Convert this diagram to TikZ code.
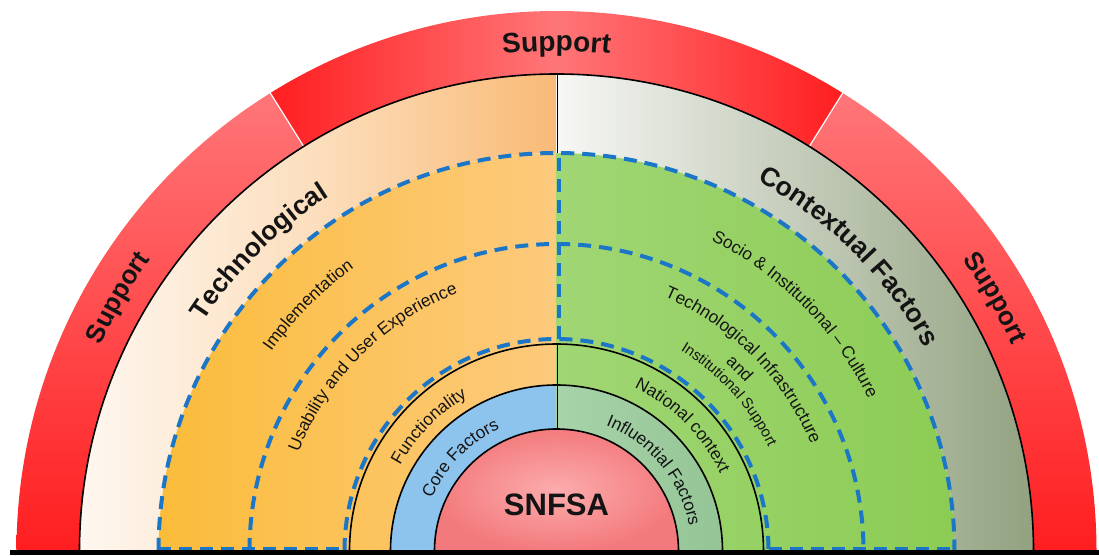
\documentclass[tikz,border=0pt]{standalone}
\usepackage{fontspec}
\setmainfont{Liberation Sans}
\usetikzlibrary{decorations.text}
\definecolor{supred}{RGB}{255,30,32}
\definecolor{suplight}{RGB}{255,118,120}
\definecolor{creamL}{RGB}{254,247,240}
\definecolor{creamM}{RGB}{252,222,188}
\definecolor{creamR}{RGB}{249,186,118}
\definecolor{grayL}{RGB}{247,247,245}
\definecolor{grayR}{RGB}{146,162,128}
\definecolor{orgL}{RGB}{251,188,58}
\definecolor{orgR}{RGB}{252,202,125}
\definecolor{grnL}{RGB}{160,214,116}
\definecolor{grnR}{RGB}{140,204,84}
\definecolor{coreblue}{RGB}{141,196,238}
\definecolor{inflL}{RGB}{168,211,170}
\definecolor{inflR}{RGB}{148,197,150}
\definecolor{pinkIn}{RGB}{252,172,174}
\definecolor{pinkOut}{RGB}{243,122,124}
\definecolor{dashblue}{RGB}{28,118,200}
\definecolor{ink}{RGB}{20,20,20}
\newcommand\fSup{\color{ink}\fontsize{26}{28}\selectfont\bfseries}
\newcommand\fTop{\color{ink}\fontsize{28}{30}\selectfont\bfseries}
\newcommand\fHead{\color{ink}\fontsize{26.5}{28}\selectfont\bfseries}
\newcommand\fMid{\color{ink}\fontsize{17.3}{19}\selectfont}
\newcommand\fSml{\color{ink}\fontsize{15}{17}\selectfont}
\tikzset{
  blackarc/.style={draw=black, line width=1.6pt},
  bluedash/.style={draw=dashblue, line width=4pt, dash pattern=on 13pt off 8pt},
  curvtext/.style={decorate, decoration={text along path, text align=center, text={#1}}}
}
\begin{document}
\begin{tikzpicture}
\useasboundingbox (-556.5pt,-4pt) rectangle (542.5pt,551pt);
% red support band
\shade[left color=supred, right color=supred, middle color=suplight]
  (122:540pt) arc[start angle=122, end angle=58, radius=540pt] -- (58:477pt)
  arc[start angle=58, end angle=122, radius=477pt] -- cycle;
\shade[top color=suplight, bottom color=supred]
  (180:540pt) arc[start angle=180, end angle=122, radius=540pt] -- (122:477pt)
  arc[start angle=122, end angle=180, radius=477pt] -- cycle;
\shade[top color=suplight, bottom color=supred]
  (0:540pt) arc[start angle=0, end angle=58, radius=540pt] -- (58:477pt)
  arc[start angle=58, end angle=0, radius=477pt] -- cycle;
\draw[white, line width=1.2pt] (122:477pt) -- (122:540pt);
\draw[white, line width=1.2pt] (58:477pt) -- (58:540pt);
% outer grey / cream bands
\shade[left color=creamL, right color=creamR, middle color=creamM]
  (180:477pt) arc[start angle=180, end angle=90, radius=477pt] -- (90:398pt)
  arc[start angle=90, end angle=180, radius=398pt] -- cycle;
\shade[left color=grayL, right color=grayR]
  (90:477pt) arc[start angle=90, end angle=0, radius=477pt] -- (0:398pt)
  arc[start angle=0, end angle=90, radius=398pt] -- cycle;
% inner orange / green
\shade[left color=orgL, right color=orgR]
  (0pt,0pt) -- (180:398pt) arc[start angle=180, end angle=90, radius=398pt] -- cycle;
\shade[left color=grnL, right color=grnR]
  (0pt,0pt) -- (90:398pt) arc[start angle=90, end angle=0, radius=398pt] -- cycle;
% core / influential rings
\fill[coreblue]
  (180:166pt) arc[start angle=180, end angle=90, radius=166pt] -- (90:122pt)
  arc[start angle=90, end angle=180, radius=122pt] -- cycle;
\shade[left color=inflL, right color=inflR]
  (90:166pt) arc[start angle=90, end angle=0, radius=166pt] -- (0:122pt)
  arc[start angle=0, end angle=90, radius=122pt] -- cycle;
% centre
\shade[inner color=pinkIn, outer color=pinkOut]
  (180:122pt) arc[start angle=180, end angle=0, radius=122pt] -- cycle;
% black outlines
\draw[blackarc] (180:477pt) arc[start angle=180, end angle=0, radius=477pt];
\draw[blackarc] (180:207pt) arc[start angle=180, end angle=0, radius=207pt];
\draw[blackarc] (180:166pt) arc[start angle=180, end angle=0, radius=166pt];
\draw[blackarc] (180:122pt) arc[start angle=180, end angle=0, radius=122pt];
\draw[blackarc] (1pt,398pt) -- (1pt,477pt);
\draw[blackarc] (1pt,122pt) -- (1pt,207pt);
% blue dashed boundaries
\draw[bluedash] (180:398pt) arc[start angle=180, end angle=0, radius=398pt];
\draw[bluedash] (180:307pt) arc[start angle=180, end angle=0, radius=307pt];
\draw[bluedash] (180:212pt) arc[start angle=180, end angle=0, radius=212pt];
\draw[bluedash] (2pt,212pt) -- (2pt,398pt);
\draw[bluedash] (-398pt,2pt) -- (-212pt,2pt);
\draw[bluedash] (212pt,2pt) -- (398pt,2pt);
% base bar
\fill[black] (-546pt,-4pt) rectangle (542.5pt,1pt);
% curved labels
\path[curvtext={|\fTop|Support}] (120:500pt) arc[start angle=120, end angle=60, radius=500pt];
\path[curvtext={|\fSup|Support}] (180:500pt) arc[start angle=180, end angle=120, radius=500pt];
\path[curvtext={|\fSup|Support}] (60:500pt) arc[start angle=60, end angle=0, radius=500pt];
\path[curvtext={|\fHead|Technological}] (170:421pt) arc[start angle=170, end angle=99.6, radius=421pt];
\path[curvtext={|\fHead|Contextual Factors}] (85:421pt) arc[start angle=85, end angle=5.4, radius=421pt];
\path[curvtext={|\fMid|Implementation}] (170:348pt) arc[start angle=170, end angle=100.6, radius=348pt];
\path[curvtext={|\fMid|Usability and User Experience}] (175:276pt) arc[start angle=175, end angle=95, radius=276pt];
\path[curvtext={|\fMid|Functionality}] (175:178pt) arc[start angle=175, end angle=96.4, radius=178pt];
\path[curvtext={|\fMid|Core Factors}] (178:135pt) arc[start angle=178, end angle=94, radius=135pt];
\path[curvtext={|\fMid|Influential Factors}] (84:135pt) arc[start angle=84, end angle=-4.8, radius=135pt];
\path[curvtext={|\fMid|National context}] (85:181pt) arc[start angle=85, end angle=4.8, radius=181pt];
\path[curvtext={|\fMid|Socio {\&} Institutional {–} Culture}] (85:347pt) arc[start angle=85, end angle=4.6, radius=347pt];
\path[curvtext={|\fMid|Technological Infrastructure}] (85:276pt) arc[start angle=85, end angle=4.7, radius=276pt];
\path[curvtext={|\fMid|and}] (60:253pt) arc[start angle=60, end angle=29.8, radius=253pt];
\path[curvtext={|\fSml|Institutional Support}] (80:236pt) arc[start angle=80, end angle=4.4, radius=236pt];
% centre label
\node[font=\fontsize{31}{31}\selectfont\bfseries, text=ink, anchor=base, inner sep=0pt] (snfsa) at (0pt,36pt) {SNFSA};
\end{tikzpicture}
\end{document}
